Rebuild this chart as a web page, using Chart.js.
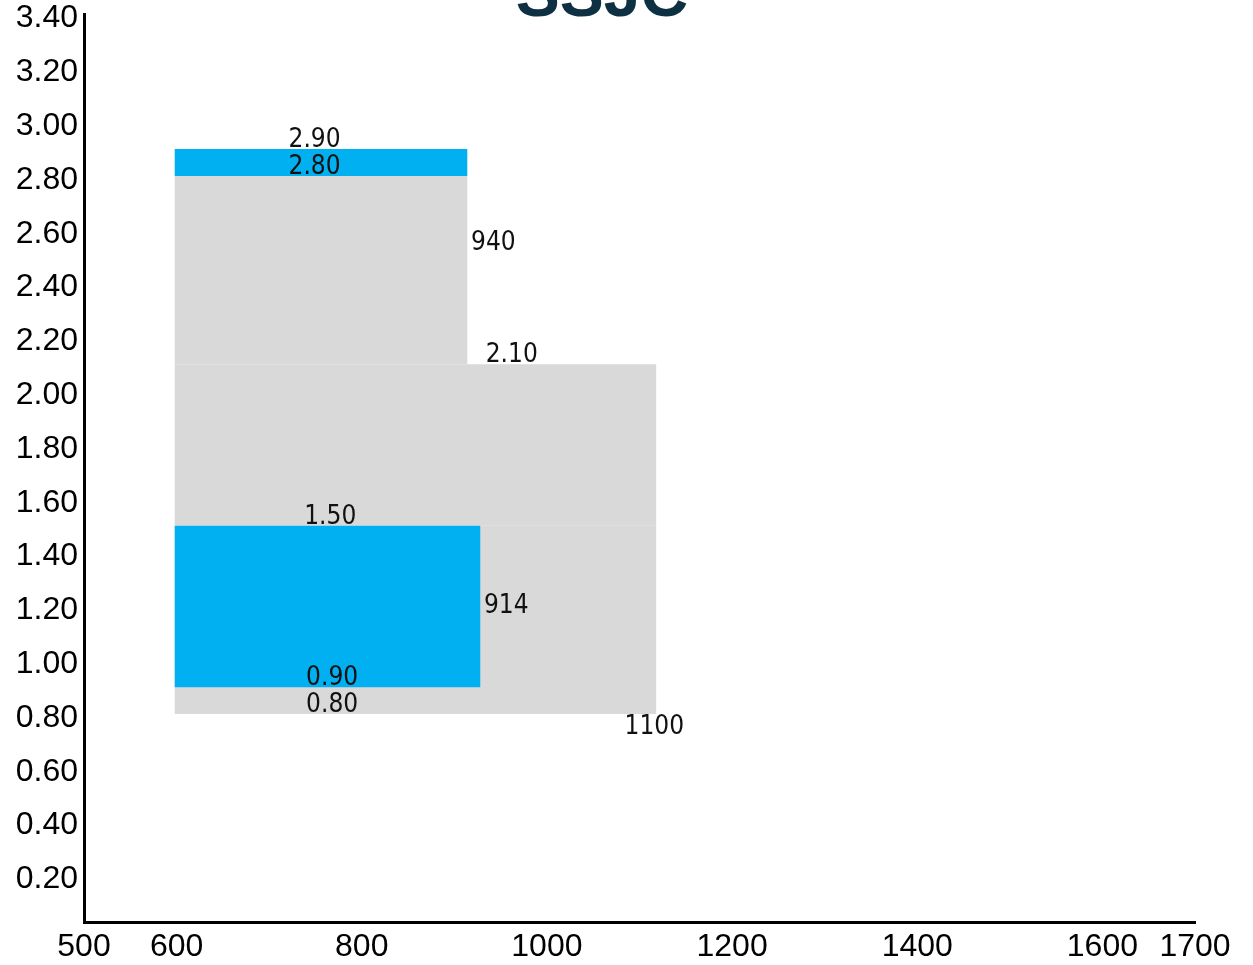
<!DOCTYPE html>
<html>
<head>
<meta charset="utf-8">
<script src="https://cdn.jsdelivr.net/npm/chart.js@4.4.0/dist/chart.umd.min.js"></script>
<style>
  body { margin: 0; background: #fff; }
  #wrap { width: 1253px; height: 965px; }
</style>
</head>
<body>
<div id="wrap"><canvas id="chart" width="1253" height="965"></canvas></div>
<script>
// tick labels
const xTicks = [500, 600, 800, 1000, 1200, 1400, 1600, 1700];
const yTicks = [0.2, 0.4, 0.6, 0.8, 1.0, 1.2, 1.4, 1.6, 1.8, 2.0, 2.2, 2.4, 2.6, 2.8, 3.0, 3.2, 3.4];

// blocks: [xStart, xEnd, yBottom, yTop]
const grayBlocks = [
  [598, 914, 2.1, 2.8],
  [598, 1118, 1.5, 2.1],
  [598, 1118, 0.8, 1.5]
];
const blueBlocks = [
  [598, 914, 2.8, 2.9],
  [598, 928, 0.9, 1.5]
];

// value labels
const labelTexts = ["2.90", "2.80", "940", "2.10", "1.50", "914", "0.90", "0.80", "1100"];
const labelX = [749, 749, 918, 962, 766, 932, 768, 768, 1116];
const labelY = [2.9, 2.8, 2.55, 2.1, 1.5, 1.2, 0.9, 0.8, 0.8];
const labelAlign = ["center", "center", "left", "center", "center", "left", "center", "center", "center"];
const labelBase = ["alphabetic", "alphabetic", "middle", "alphabetic", "alphabetic", "middle", "alphabetic", "alphabetic", "top"];

const titleText = "SSJC";

function blockPoints(b) {
  return [
    { x: b[0], y: b[2] }, { x: b[1], y: b[2] },
    { x: b[1], y: b[3] }, { x: b[0], y: b[3] },
    { x: b[0], y: b[2] }
  ];
}

function blockDataset(b, color, order) {
  return {
    data: blockPoints(b),
    order: order,
    showLine: true,
    fill: "shape",
    backgroundColor: color,
    borderColor: color,
    borderWidth: 0,
    pointRadius: 0,
    tension: 0
  };
}

// lower order is drawn on top, so blue sits over gray
const datasets = [
  ...blueBlocks.map(b => blockDataset(b, "#00b0f0", 0)),
  ...grayBlocks.map(b => blockDataset(b, "#d9d9d9", 1))
];

// draws value labels and the cropped title
const labelPlugin = {
  id: "valueLabels",
  afterDatasetsDraw(chart) {
    const ctx = chart.ctx;
    const xs = chart.scales.x, ys = chart.scales.y;
    ctx.save();
    ctx.fillStyle = "#111";
    ctx.font = "26px 'DejaVu Sans Condensed', 'DejaVu Sans'";
    labelTexts.forEach((t, i) => {
      ctx.textAlign = labelAlign[i];
      ctx.textBaseline = labelBase[i];
      const dy = labelBase[i] === "alphabetic" ? -2 : 0;
      ctx.fillText(t, xs.getPixelForValue(labelX[i]), ys.getPixelForValue(labelY[i]) + dy);
    });
    ctx.fillStyle = "#0e3043";
    ctx.font = "bold 66px 'Liberation Sans'";
    ctx.textAlign = "center";
    ctx.textBaseline = "alphabetic";
    ctx.fillText(titleText, 602, 16);
    ctx.restore();
  }
};

const tickFont = { family: "'Liberation Sans', Arial, sans-serif", size: 32 };

new Chart(document.getElementById("chart"), {
  type: "scatter",
  data: { datasets },
  plugins: [labelPlugin],
  options: {
    responsive: false,
    animation: false,
    layout: { padding: { top: 14, right: 58, left: 0, bottom: 0 } },
    plugins: { legend: { display: false }, tooltip: { enabled: false }, title: { display: false } },
    scales: {
      x: {
        type: "linear",
        min: 500,
        max: 1700,
        afterBuildTicks: axis => { axis.ticks = xTicks.map(v => ({ value: v })); },
        afterFit: axis => { axis.height = 43; axis.paddingLeft = 0; axis.paddingRight = 0; },
        grid: { display: false, drawTicks: false },
        border: { display: true, color: "#000", width: 3 },
        ticks: { font: tickFont, color: "#000", padding: 6, maxRotation: 0, autoSkip: false, callback: v => String(v) }
      },
      y: {
        type: "linear",
        min: 0.027,
        max: 3.402,
        afterBuildTicks: axis => { axis.ticks = yTicks.map(v => ({ value: v })); },
        afterFit: axis => { axis.width = 84; axis.paddingTop = 0; axis.paddingBottom = 0; },
        grid: { display: false, drawTicks: false },
        border: { display: true, color: "#000", width: 3 },
        ticks: { font: tickFont, color: "#000", padding: 6, labelOffset: 4, autoSkip: false, callback: v => v.toFixed(2) }
      }
    }
  }
});
</script>
</body>
</html>
